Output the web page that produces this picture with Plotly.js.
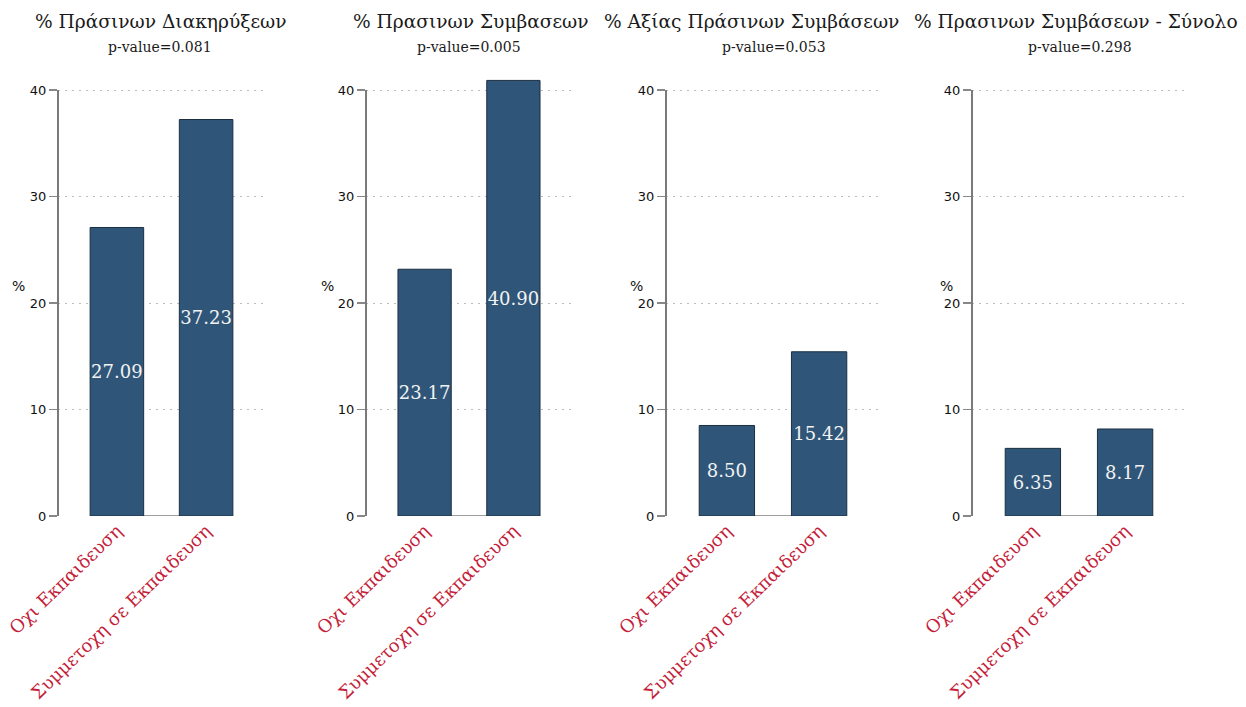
<!DOCTYPE html>
<html>
<head>
<meta charset="utf-8">
<script src="https://cdn.plot.ly/plotly-3.0.1.min.js"></script>
<style>html,body{margin:0;padding:0;background:#fff;}#chart{width:1246px;height:707px;}</style>
</head>
<body>
<div id="chart"></div>
<script>
// ---- data ----
const categories = ["Οχι Εκπαιδευση", "Συμμετοχη σε Εκπαιδευση"];
const panelTitles = [
  "% Πράσινων Διακηρύξεων",
  "% Πρασινων Συμβασεων",
  "% Αξίας Πράσινων Συμβάσεων",
  "% Πρασινων Συμβάσεων - Σύνολο"
];
const pValues = ["0.081", "0.005", "0.053", "0.298"];
const valuesDiakirykseis = [27.09, 37.23];
const valuesSymvaseis = [23.17, 40.90];
const valuesAxia = [8.50, 15.42];
const valuesSynolo = [6.35, 8.17];
const yTicks = [0, 10, 20, 30, 40];
const yLabel = "%";

const seriesList = [valuesDiakirykseis, valuesSymvaseis, valuesAxia, valuesSynolo];

// ---- layout helpers (pixels -> paper) ----
const W = 1246, H = 707;
const px = v => v / W;
const py = v => 1 - v / H;
const panelPx = [[58, 265], [366, 572], [666, 880], [972, 1186]];
const titleCenters = [161, 471, 752, null];
const pCenters = [160, 469, 774, 1080];
const pctX = [18, 327, 636, 946];

const serif = "DejaVu Serif, serif";
const barColor = "#2f5679";

const traces = [];
const layout = {
  width: W, height: H,
  margin: {l: 0, r: 0, t: 0, b: 0},
  paper_bgcolor: "#fff", plot_bgcolor: "rgba(0,0,0,0)",
  showlegend: false,
  annotations: [],
  shapes: []
};

seriesList.forEach((vals, i) => {
  const n = i === 0 ? "" : String(i + 1);
  traces.push({
    type: "bar",
    x: categories,
    y: vals,
    xaxis: "x" + n, yaxis: "y" + n,
    width: 0.6,
    marker: {color: barColor, line: {color: "#1c2f40", width: 1}},
    text: vals.map(v => v.toFixed(2)),
    textposition: "inside",
    insidetextanchor: "middle",
    constraintext: "none",
    textangle: 0,
    textfont: {family: serif, size: 18, color: "#f2f2f2"},
    hoverinfo: "x+y"
  });
  const [l, r] = panelPx[i];
  layout["xaxis" + n] = {
    domain: [px(l), px(r)],
    anchor: "y" + n,
    range: [-0.66, 1.66],
    showgrid: false, zeroline: false, showline: false,
    ticks: "", tickangle: -44,
    tickfont: {family: serif, size: 18, color: "#c41e3a"},
    fixedrange: true
  };
  layout["yaxis" + n] = {
    domain: [py(516), py(68.7)],
    anchor: "x" + n,
    range: [0, 42],
    tickvals: yTicks,
    ticktext: yTicks.map(String),
    ticks: "outside", ticklen: 8, tickwidth: 1.5, tickcolor: "#888",
    tickfont: {family: "DejaVu Sans, sans-serif", size: 13, color: "#111"},
    showgrid: true, gridcolor: "#bdbdbd", griddash: "1.5px,5.5px", gridwidth: 1,
    zeroline: false, showline: false,
    fixedrange: true
  };
  // y axis line from 0 to 40
  layout.shapes.push({
    type: "line", xref: "x" + n + " domain", yref: "y" + n,
    x0: 0, x1: 0, y0: yTicks[0], y1: yTicks[yTicks.length - 1],
    line: {color: "#7a7a7a", width: 2}, layer: "above"
  });
  // x baseline between categories
  layout.shapes.push({
    type: "line", xref: "x" + n, yref: "y" + n,
    x0: 0, x1: categories.length - 1, y0: 0, y1: 0,
    line: {color: "#a0a0a0", width: 2}, layer: "below"
  });
  // titles
  const tc = titleCenters[i];
  layout.annotations.push({
    xref: "paper", yref: "paper", x: px(tc !== null ? tc : 912), y: py(22),
    xanchor: tc !== null ? "center" : "left", yanchor: "middle", showarrow: false,
    text: panelTitles[i], font: {family: serif, size: 18.6, color: "#1a1a1a"}
  });
  layout.annotations.push({
    xref: "paper", yref: "paper", x: px(pCenters[i]), y: py(47),
    xanchor: "center", yanchor: "middle", showarrow: false,
    text: "p-value=" + pValues[i], font: {family: serif, size: 14, color: "#1a1a1a"}
  });
  layout.annotations.push({
    xref: "paper", yref: "paper", x: px(pctX[i]), y: py(286),
    xanchor: "center", yanchor: "middle", showarrow: false,
    text: yLabel, font: {family: "DejaVu Sans, sans-serif", size: 14, color: "#111"}
  });
});

Plotly.newPlot("chart", traces, layout, {displayModeBar: false, staticPlot: true});
</script>
</body>
</html>
